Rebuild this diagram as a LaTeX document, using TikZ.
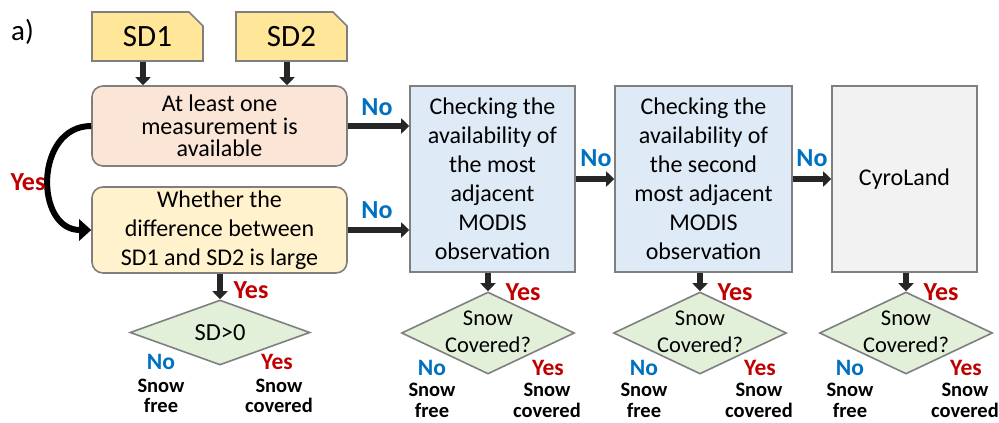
\documentclass[tikz,border=0pt]{standalone}
\usepackage{fontspec}
\setmainfont{Carlito}
\usetikzlibrary{shapes.geometric,shapes.misc,arrows.meta}
\definecolor{sdfill}{HTML}{FFE699}
\definecolor{pinkfill}{HTML}{FBE5D6}
\definecolor{yellowfill}{HTML}{FFF2CC}
\definecolor{bluefill}{HTML}{DEEBF7}
\definecolor{grayfill}{HTML}{F2F2F2}
\definecolor{greenfill}{HTML}{E2F0D9}
\definecolor{bordergray}{HTML}{7F7F7F}
\definecolor{arrowc}{HTML}{262626}
\definecolor{yesred}{HTML}{C00000}
\definecolor{noblue}{HTML}{0070C0}
\begin{document}
\begin{tikzpicture}[x=1pt,y=-1pt,
  every node/.style={inner sep=0pt},
  sdbox/.style={chamfered rectangle, chamfered rectangle corners=north east,
    chamfered rectangle xsep=7pt, chamfered rectangle ysep=7pt,
    draw=bordergray, line width=1.6pt, fill=sdfill, minimum width=111pt, minimum height=49pt,
    font=\fontsize{31}{31}\selectfont},
  rbox/.style={rectangle, rounded corners=11pt, draw=bordergray, line width=1.6pt, align=center},
  sbox/.style={rectangle, draw=bordergray, line width=1.6pt, align=center,
    font=\fontsize{24}{29}\selectfont},
  dia/.style={diamond, draw=bordergray, line width=1.6pt, fill=greenfill},
  diatext/.style={align=center, font=\fontsize{22.5}{27}\selectfont},
  arr/.style={draw=arrowc, line width=5.5pt, -{Triangle[length=8pt,width=15pt]}},
  bigarr/.style={draw=black, line width=6pt, -{Triangle[length=12pt,width=21pt]}},
  yeslab/.style={text=yesred, font=\bfseries\fontsize{26}{26}\selectfont},
  nolab/.style={text=noblue, font=\bfseries\fontsize{26}{26}\selectfont},
  yessm/.style={text=yesred, font=\bfseries\fontsize{23.5}{23.5}\selectfont},
  nosm/.style={text=noblue, font=\bfseries\fontsize{23.5}{23.5}\selectfont},
  outtext/.style={align=center, font=\bfseries\fontsize{20.5}{20.5}\selectfont}]
\fill[white] (0,0) rectangle (999,423);
\useasboundingbox (0,0) rectangle (999,423);

\node[font=\fontsize{29}{29}\selectfont] (lbl) at (22.5,32) {a)};

\node[sdbox] (sd1) at (147.5,36.5) {SD1};
\node[sdbox] (sd2) at (291.5,36.5) {SD2};

\node[rbox, fill=pinkfill, minimum width=255pt, minimum height=80pt,
  font=\fontsize{24}{22.5}\selectfont] (q1) at (219.5,126)
  {At least one\\measurement is\\available};
\node[rbox, fill=yellowfill, minimum width=255pt, minimum height=86pt,
  font=\fontsize{24}{29}\selectfont] (q2) at (219.5,230)
  {Whether the\\difference between\\SD1 and SD2 is large};

\node[sbox, fill=bluefill, minimum width=165pt, minimum height=186pt] (b1) at (492.5,179)
  {Checking the\\availability of\\the most\\adjacent\\MODIS\\observation};
\node[sbox, fill=bluefill, minimum width=177pt, minimum height=186pt] (b2) at (703.5,179)
  {Checking the\\availability of\\the second\\most adjacent\\MODIS\\observation};
\node[sbox, fill=grayfill, minimum width=145pt, minimum height=186pt] (g) at (904.5,179)
  {CyroLand};

% arrows top
\draw[arr] ([xshift=-4.5pt]sd1.south) -- ([xshift=-4.5pt]sd1.south |- q1.north);
\draw[arr] ([xshift=-4.5pt]sd2.south) -- ([xshift=-4.5pt]sd2.south |- q1.north);
\draw[arr] (q1.east) -- (q1.east -| b1.west);
\draw[arr] (q2.east) -- (q2.east -| b1.west);
\draw[arr] (b1.east) -- (b2.west);
\draw[arr] (b2.east) -- (g.west);
\draw[bigarr] (q1.west) to[out=180,in=180,looseness=1.4] (q2.west);

\node[yeslab] (yq) at (28,182) {Yes};
\node[nolab] (n1) at (377,107) {No};
\node[nolab] (n2) at (377,210) {No};
\node[nolab] (n3) at (596,158) {No};
\node[nolab] (n4) at (812,158) {No};

% first diamond
\node[dia, minimum width=180pt, minimum height=65pt] (d1) at (220,332.5) {};
\node[font=\fontsize{24.5}{24.5}\selectfont] (d1t) at (220,333) {SD>0};
\draw[arr] (d1.north |- q2.south) -- (d1.north);
\node[yeslab] (d1y) at (251,290) {Yes};
\node[nosm] (d1no) at (161,362) {No};
\node[yessm] (d1yes) at (277,362) {Yes};
\node[outtext] (d1f) at (161,396) {Snow\\free};
\node[outtext] (d1c) at (279,396) {Snow\\covered};

% other diamonds
\foreach \n/\cx/\bx in {2/488/b1, 3/700/b2, 4/906/g}{
  \node[dia, minimum width=173pt, minimum height=82pt] (d\n) at (\cx,333) {};
  \node[diatext] (d\n t) at (\cx,331.5) {Snow\\Covered?};
  \draw[arr] (d\n.north |- \bx.south) -- (d\n.north);
  \node[yeslab] (d\n y) at (\cx+35,292) {Yes};
  \node[nosm] (d\n no) at (\cx-56,368) {No};
  \node[yessm] (d\n yes) at (\cx+60,368) {Yes};
  \node[outtext] (d\n f) at (\cx-56,400.5) {Snow\\free};
  \node[outtext] (d\n c) at (\cx+59,400.5) {Snow\\covered};
}
\end{tikzpicture}
\end{document}
